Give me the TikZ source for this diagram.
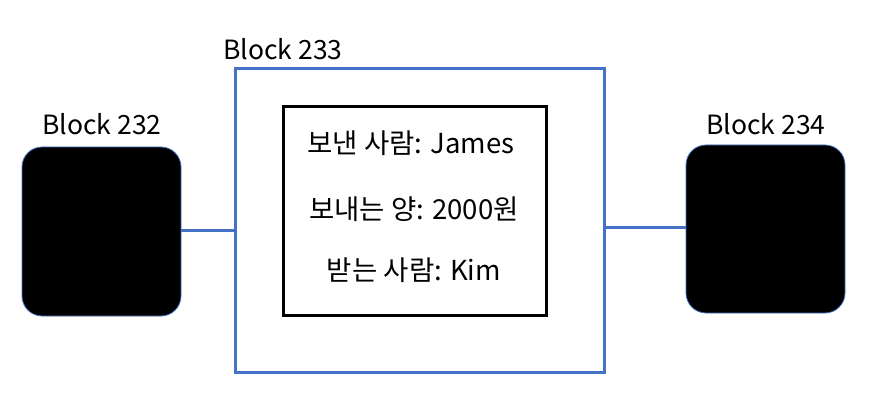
\documentclass[tikz,border=0pt]{standalone}
\usepackage{fontspec}
\setmainfont{Noto Sans CJK KR}
\definecolor{ublue}{HTML}{4472C4}
\begin{document}
\begin{tikzpicture}[x=1pt,y=-1pt,
  blk/.style={fill=black,draw=ublue,line width=0.8pt,rounded corners=20pt},
  lbl/.style={font=\fontsize{26.5}{30}\selectfont,inner sep=0pt},
  txt/.style={font=\fontsize{27.5}{30}\selectfont,inner sep=0pt},
  conn/.style={draw=ublue,line width=3pt}]
\useasboundingbox (0,0) rectangle (873,414);
\fill[white] (0,0) rectangle (873,414);
\path[blk] (22,147) rectangle (181,316);
\node (b232) at (101.5,231.5) [minimum width=159pt,minimum height=169pt,inner sep=0pt] {};
\path[blk] (686,145) rectangle (845,313);
\node (b234) at (765.5,229) [minimum width=159pt,minimum height=168pt,inner sep=0pt] {};
\node (b233) [draw=ublue,line width=3pt,minimum width=369pt,minimum height=303pt,inner sep=0pt] at (419.5,220.5) {};
\node (inner) [draw=black,line width=3pt,minimum width=263pt,minimum height=208pt,inner sep=0pt] at (414.5,211) {};
\node[lbl] (l232) at (102,124) {Block 232};
\node[lbl] (l233) at (283,49) {Block 233};
\node[lbl] (l234) at (766,124) {Block 234};
\node[txt] (t1) at (411,143) {보낸 사람: James};
\node[txt] (t2) at (414,209) {보내는 양: 2000원};
\node[txt] (t3) at (414,270) {받는 사람: Kim};
\draw[conn] (b232.east |- 0,231) -- (b233.west |- 0,231);
\draw[conn] (b233.east |- 0,228) -- (b234.west |- 0,228);
\end{tikzpicture}
\end{document}
